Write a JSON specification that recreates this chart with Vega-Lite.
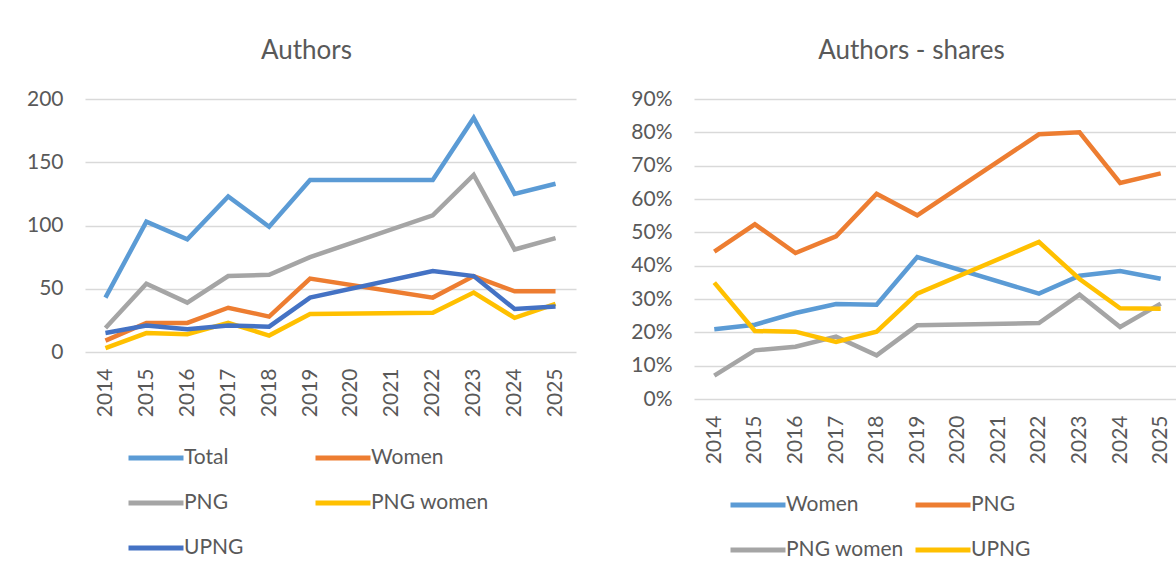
{
  "$schema": "https://vega.github.io/schema/vega-lite/v6.json",
  "padding": {"left": 26, "top": 38, "right": 0, "bottom": 0},
  "background": "white",
  "config": {
    "font": "Lato",
    "view": {"stroke": null},
    "axis": {"labelColor": "#595959", "labelFontSize": 21, "labelFont": "Lato", "domain": false, "ticks": false, "title": null, "gridColor": "#d9d9d9", "gridWidth": 1.5},
    "title": {"color": "#595959", "fontSize": 26, "fontWeight": "normal", "font": "Lato", "offset": 24},
    "legend": {"title": null, "labelFontSize": 21, "labelColor": "#595959", "labelFont": "Lato", "symbolType": "stroke", "symbolStrokeWidth": 5, "symbolSize": 3025, "labelOffset": -2, "columns": 2, "direction": "horizontal", "gridAlign": "all", "rowPadding": 5, "orient": "none"}
  },
  "datasets": {
    "authors": [
      {"series": "Total", "year": "2014", "value": 43},
      {"series": "Total", "year": "2015", "value": 103},
      {"series": "Total", "year": "2016", "value": 89},
      {"series": "Total", "year": "2017", "value": 123},
      {"series": "Total", "year": "2018", "value": 99},
      {"series": "Total", "year": "2019", "value": 136},
      {"series": "Total", "year": "2022", "value": 136},
      {"series": "Total", "year": "2023", "value": 185},
      {"series": "Total", "year": "2024", "value": 125},
      {"series": "Total", "year": "2025", "value": 133},
      {"series": "Women", "year": "2014", "value": 9},
      {"series": "Women", "year": "2015", "value": 23},
      {"series": "Women", "year": "2016", "value": 23},
      {"series": "Women", "year": "2017", "value": 35},
      {"series": "Women", "year": "2018", "value": 28},
      {"series": "Women", "year": "2019", "value": 58},
      {"series": "Women", "year": "2022", "value": 43},
      {"series": "Women", "year": "2023", "value": 60},
      {"series": "Women", "year": "2024", "value": 48},
      {"series": "Women", "year": "2025", "value": 48},
      {"series": "PNG", "year": "2014", "value": 19},
      {"series": "PNG", "year": "2015", "value": 54},
      {"series": "PNG", "year": "2016", "value": 39},
      {"series": "PNG", "year": "2017", "value": 60},
      {"series": "PNG", "year": "2018", "value": 61},
      {"series": "PNG", "year": "2019", "value": 75},
      {"series": "PNG", "year": "2022", "value": 108},
      {"series": "PNG", "year": "2023", "value": 140},
      {"series": "PNG", "year": "2024", "value": 81},
      {"series": "PNG", "year": "2025", "value": 90},
      {"series": "PNG women", "year": "2014", "value": 3},
      {"series": "PNG women", "year": "2015", "value": 15},
      {"series": "PNG women", "year": "2016", "value": 14},
      {"series": "PNG women", "year": "2017", "value": 23},
      {"series": "PNG women", "year": "2018", "value": 13},
      {"series": "PNG women", "year": "2019", "value": 30},
      {"series": "PNG women", "year": "2022", "value": 31},
      {"series": "PNG women", "year": "2023", "value": 47},
      {"series": "PNG women", "year": "2024", "value": 27},
      {"series": "PNG women", "year": "2025", "value": 38},
      {"series": "UPNG", "year": "2014", "value": 15},
      {"series": "UPNG", "year": "2015", "value": 21},
      {"series": "UPNG", "year": "2016", "value": 18},
      {"series": "UPNG", "year": "2017", "value": 21},
      {"series": "UPNG", "year": "2018", "value": 20},
      {"series": "UPNG", "year": "2019", "value": 43},
      {"series": "UPNG", "year": "2022", "value": 64},
      {"series": "UPNG", "year": "2023", "value": 60},
      {"series": "UPNG", "year": "2024", "value": 34},
      {"series": "UPNG", "year": "2025", "value": 36}
    ],
    "shares": [
      {"series": "Women", "year": "2014", "value": 0.209},
      {"series": "Women", "year": "2015", "value": 0.223},
      {"series": "Women", "year": "2016", "value": 0.258},
      {"series": "Women", "year": "2017", "value": 0.285},
      {"series": "Women", "year": "2018", "value": 0.283},
      {"series": "Women", "year": "2019", "value": 0.426},
      {"series": "Women", "year": "2022", "value": 0.316},
      {"series": "Women", "year": "2023", "value": 0.37},
      {"series": "Women", "year": "2024", "value": 0.384},
      {"series": "Women", "year": "2025", "value": 0.361},
      {"series": "PNG", "year": "2014", "value": 0.442},
      {"series": "PNG", "year": "2015", "value": 0.524},
      {"series": "PNG", "year": "2016", "value": 0.438},
      {"series": "PNG", "year": "2017", "value": 0.488},
      {"series": "PNG", "year": "2018", "value": 0.616},
      {"series": "PNG", "year": "2019", "value": 0.551},
      {"series": "PNG", "year": "2022", "value": 0.794},
      {"series": "PNG", "year": "2023", "value": 0.8},
      {"series": "PNG", "year": "2024", "value": 0.648},
      {"series": "PNG", "year": "2025", "value": 0.677},
      {"series": "PNG women", "year": "2014", "value": 0.07},
      {"series": "PNG women", "year": "2015", "value": 0.146},
      {"series": "PNG women", "year": "2016", "value": 0.157},
      {"series": "PNG women", "year": "2017", "value": 0.187},
      {"series": "PNG women", "year": "2018", "value": 0.131},
      {"series": "PNG women", "year": "2019", "value": 0.221},
      {"series": "PNG women", "year": "2022", "value": 0.228},
      {"series": "PNG women", "year": "2023", "value": 0.313},
      {"series": "PNG women", "year": "2024", "value": 0.216},
      {"series": "PNG women", "year": "2025", "value": 0.286},
      {"series": "UPNG", "year": "2014", "value": 0.349},
      {"series": "UPNG", "year": "2015", "value": 0.204},
      {"series": "UPNG", "year": "2016", "value": 0.202},
      {"series": "UPNG", "year": "2017", "value": 0.171},
      {"series": "UPNG", "year": "2018", "value": 0.202},
      {"series": "UPNG", "year": "2019", "value": 0.316},
      {"series": "UPNG", "year": "2022", "value": 0.471},
      {"series": "UPNG", "year": "2023", "value": 0.36},
      {"series": "UPNG", "year": "2024", "value": 0.272},
      {"series": "UPNG", "year": "2025", "value": 0.271}
    ]
  },
  "spacing": 54,
  "resolve": {"scale": {"color": "independent", "y": "independent", "x": "independent"}, "legend": {"color": "independent"}},
  "hconcat": [
    {
      "title": {"text": "Authors", "dx": -24},
      "width": 491,
      "height": 253,
      "data": {"name": "authors"},
      "mark": {"type": "line", "strokeWidth": 4.5},
      "encoding": {
        "x": {"field": "year", "type": "ordinal", "sort": null,
              "scale": {"type": "point", "padding": 0.5, "domain": ["2014","2015","2016","2017","2018","2019","2020","2021","2022","2023","2024","2025"]},
              "axis": {"labelAngle": -90, "labelPadding": 16, "grid": false}},
        "y": {"field": "value", "type": "quantitative",
              "scale": {"domain": [0, 200]},
              "axis": {"values": [0, 50, 100, 150, 200], "labelPadding": 22}},
        "color": {"field": "series", "type": "nominal",
                  "scale": {"domain": ["Total", "Women", "PNG", "PNG women", "UPNG"], "range": ["#5B9BD5", "#ED7D31", "#A5A5A5", "#FFC000", "#4472C4"]},
                  "legend": {"legendX": 41, "legendY": 329, "columnPadding": 3}}
      }
    },
    {
      "title": {"text": "Authors - shares", "dx": -26},
      "width": 487,
      "height": 300,
      "data": {"name": "shares"},
      "mark": {"type": "line", "strokeWidth": 4.5},
      "encoding": {
        "x": {"field": "year", "type": "ordinal", "sort": null,
              "scale": {"type": "point", "padding": 0.5, "domain": ["2014","2015","2016","2017","2018","2019","2020","2021","2022","2023","2024","2025"]},
              "axis": {"labelAngle": -90, "labelPadding": 16, "grid": false}},
        "y": {"field": "value", "type": "quantitative",
              "scale": {"domain": [0, 0.9]},
              "axis": {"values": [0, 0.1, 0.2, 0.3, 0.4, 0.5, 0.6, 0.7, 0.8, 0.9], "format": ".0%", "labelPadding": 22}},
        "color": {"field": "series", "type": "nominal",
                  "scale": {"domain": ["Women", "PNG", "PNG women", "UPNG"], "range": ["#5B9BD5", "#ED7D31", "#A5A5A5", "#FFC000"]},
                  "legend": {"legendX": 34, "legendY": 376, "columnPadding": 1}}
      }
    }
  ]
}
